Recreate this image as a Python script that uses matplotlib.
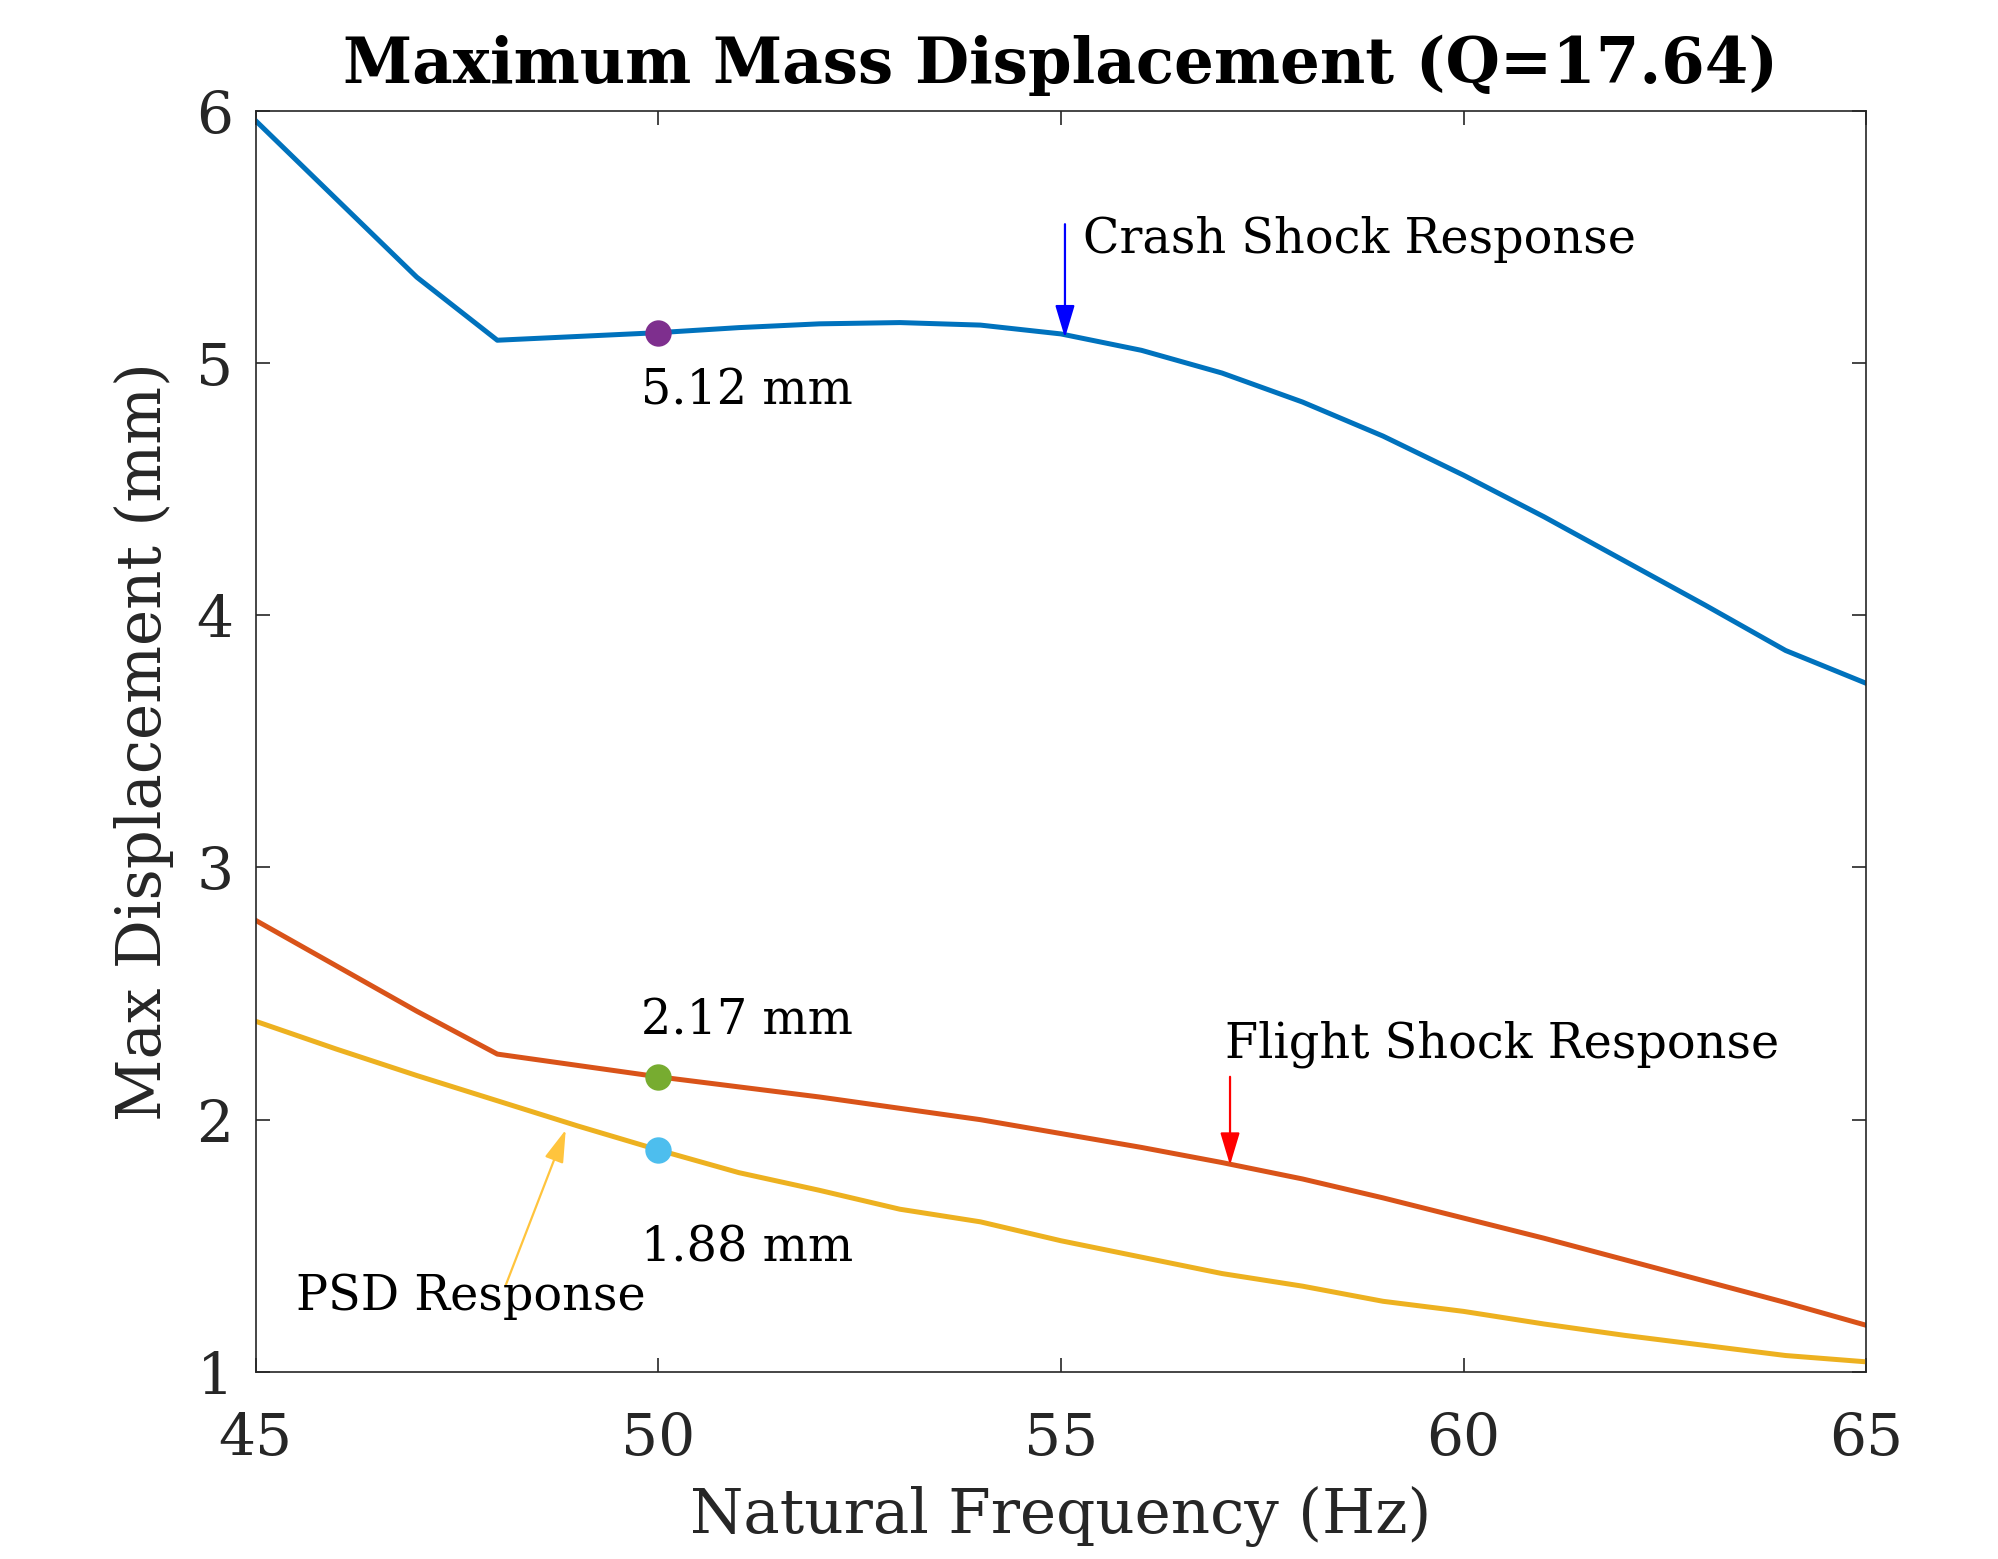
import numpy as np
import matplotlib
matplotlib.use("Agg")
import matplotlib.pyplot as plt

plt.rcParams['font.family'] = ['DejaVu Serif']

# natural frequency (Hz)
freq = [45, 46, 47, 48, 49, 50, 51, 52, 53, 54, 55, 56, 57, 58, 59, 60, 61, 62, 63, 64, 65]

# max displacement (mm)
crash = [5.96, 5.65, 5.34, 5.09, 5.105, 5.12, 5.14, 5.155, 5.16, 5.15, 5.115, 5.05, 4.96,
         4.845, 4.71, 4.555, 4.39, 4.215, 4.04, 3.86, 3.73]
flight = [2.79, 2.61, 2.43, 2.26, 2.215, 2.17, 2.13, 2.09, 2.045, 2.0, 1.945, 1.89, 1.83,
          1.765, 1.69, 1.61, 1.53, 1.445, 1.36, 1.275, 1.185]
psd = [2.39, 2.28, 2.175, 2.075, 1.975, 1.88, 1.79, 1.72, 1.645, 1.595, 1.52, 1.455, 1.39,
       1.34, 1.28, 1.24, 1.19, 1.145, 1.105, 1.065, 1.04]

# highlighted values at 50 Hz
mark_freq = 50
mark_vals = [5.12, 2.17, 1.88]
mark_labels = ['5.12 mm', '2.17 mm', '1.88 mm']

fig = plt.figure(figsize=(9.99, 7.795), dpi=200)
ax = fig.add_axes([0.128, 0.12, 0.806, 0.809])

ax.plot(freq, crash, color='#0072BD', lw=1.8)
ax.plot(freq, flight, color='#D95319', lw=1.8)
ax.plot(freq, psd, color='#EDB120', lw=1.8)

# markers at 50 Hz
ax.plot(mark_freq, mark_vals[0], 'o', color='#7E2F8E', ms=8.5, zorder=5)
ax.plot(mark_freq, mark_vals[1], 'o', color='#77AC30', ms=8.5, zorder=5)
ax.plot(mark_freq, mark_vals[2], 'o', color='#4DBEEE', ms=8.5, zorder=5)

lab_size = 17.2
ax.text(49.78, 4.89, mark_labels[0], fontsize=lab_size, va='center', ha='left')
ax.text(49.78, 2.39, mark_labels[1], fontsize=lab_size, va='center', ha='left')
ax.text(49.78, 1.49, mark_labels[2], fontsize=lab_size, va='center', ha='left')

# annotation arrows
arrow_style = '-|>,head_length=1.0,head_width=0.3'
ax.annotate('', xy=(55.05, 5.10), xytext=(55.05, 5.55),
            arrowprops=dict(arrowstyle=arrow_style, color='blue', lw=0.8,
                            shrinkA=0, shrinkB=0))
ax.text(55.28, 5.49, 'Crash Shock Response', fontsize=lab_size, va='center', ha='left')

ax.annotate('', xy=(57.1, 1.82), xytext=(57.1, 2.17),
            arrowprops=dict(arrowstyle=arrow_style, color='red', lw=0.8,
                            shrinkA=0, shrinkB=0))
ax.text(57.04, 2.30, 'Flight Shock Response', fontsize=lab_size, va='center', ha='left')

ax.annotate('', xy=(48.85, 1.96), xytext=(48.1, 1.34),
            arrowprops=dict(arrowstyle=arrow_style, color='#FFC43D', lw=0.8,
                            shrinkA=0, shrinkB=0))
ax.text(45.5, 1.30, 'PSD Response', fontsize=lab_size, va='center', ha='left')

ax.set_xlim(45, 65)
ax.set_ylim(1, 6)
ax.set_xticks([45, 50, 55, 60, 65])
ax.set_yticks([1, 2, 3, 4, 5, 6])

ax.tick_params(direction='in', length=5, width=0.6, top=True, right=True,
               labelsize=21, colors='#262626')
ax.tick_params(axis='x', pad=14)
ax.tick_params(axis='y', pad=8)
for s in ax.spines.values():
    s.set_color('#262626')
    s.set_linewidth(0.6)

ax.set_xlabel('Natural Frequency (Hz)', fontsize=22, color='#262626', labelpad=7)
ax.set_ylabel('Max Displacement (mm)', fontsize=22, color='#262626', labelpad=8)
ax.set_title('Maximum Mass Displacement (Q=17.64)', fontsize=22.5, fontweight='bold', pad=10)

fig.savefig('out.png', dpi=200, facecolor='white')
